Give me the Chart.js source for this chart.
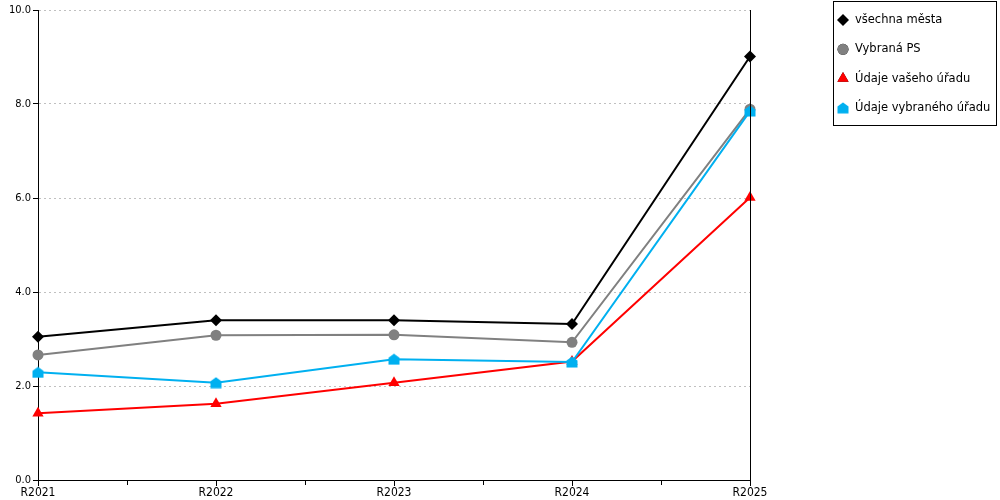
<!DOCTYPE html>
<html>
<head>
<meta charset="utf-8">
<script src="https://cdn.jsdelivr.net/npm/chart.js@4/dist/chart.umd.min.js"></script>
<style>
  html, body { margin: 0; padding: 0; background: #fff; }
  #wrap { width: 1000px; height: 500px; }
</style>
</head>
<body>
<div id="wrap"><canvas id="chart" width="1000" height="500"></canvas></div>
<script>
const years = ['R2021', 'R2022', 'R2023', 'R2024', 'R2025'];
const vsechnaMesta = [3.05, 3.40, 3.40, 3.32, 9.01];
const vybranaPS = [2.66, 3.08, 3.09, 2.93, 7.89];
const udajeVasehoUradu = [1.42, 1.62, 2.07, 2.52, 6.01];
const udajeVybranehoUradu = [2.29, 2.07, 2.57, 2.51, 7.85];
const yTicks = [0, 2, 4, 6, 8, 10];

const font = 'DejaVu Sans';
const fontNarrow = 'DejaVu Sans Condensed';

// house-shaped marker (triangle roof on a square)
function houseMarker(color) {
    const c = document.createElement('canvas');
    c.width = 12; c.height = 12;
    const g = c.getContext('2d');
    g.fillStyle = color;
    g.beginPath();
    g.moveTo(6, 0.5);
    g.lineTo(11.5, 4.5);
    g.lineTo(11.5, 11.5);
    g.lineTo(0.5, 11.5);
    g.lineTo(0.5, 4.5);
    g.closePath();
    g.fill();
    return c;
}
const house = houseMarker('#00b0f0');

const extras = {
    id: 'extras',
    afterDatasetsDraw(chart) {
        const { ctx, chartArea: a, scales: { x } } = chart;
        ctx.save();
        ctx.strokeStyle = '#000';
        ctx.lineWidth = 1;
        // right frame line
        ctx.beginPath();
        ctx.moveTo(Math.round(a.right) + 0.5, a.top);
        ctx.lineTo(Math.round(a.right) + 0.5, a.bottom);
        ctx.stroke();
        // minor ticks between categories
        for (let i = 0; i < years.length - 1; i++) {
            const px = Math.round(x.getPixelForValue(i + 0.5)) + 0.5;
            ctx.beginPath();
            ctx.moveTo(px, a.bottom);
            ctx.lineTo(px, a.bottom + 5);
            ctx.stroke();
        }
        ctx.restore();
    },
    afterDraw(chart) {
        const { ctx } = chart;
        ctx.save();
        ctx.fillStyle = '#fff';
        ctx.fillRect(833, 1, 164, 125);
        ctx.strokeStyle = '#000';
        ctx.lineWidth = 1;
        ctx.strokeRect(833.5, 1.5, 163, 124);
        ctx.font = '11.5px "' + font + '"';
        ctx.textBaseline = 'middle';
        ctx.textAlign = 'left';
        chart.data.datasets.forEach((ds, i) => {
            const cy = 20 + i * 29.3;
            const cx = 843;
            if (ds.pointStyle instanceof HTMLCanvasElement) {
                ctx.drawImage(ds.pointStyle, cx - 6, cy - 6);
            } else {
                Chart.helpers.drawPoint(ctx, {
                    pointStyle: ds.pointStyle,
                    radius: ds.pointRadius,
                    rotation: 0,
                    borderWidth: 0
                }, cx, cy);
                ctx.fillStyle = ds.pointBackgroundColor;
                ctx.fill();
            }
            ctx.fillStyle = '#000';
            ctx.fillText(ds.label, 855, cy);
        });
        ctx.restore();
    }
};

const commonDs = { fill: false, tension: 0, borderWidth: 2, clip: false, pointBorderWidth: 0, pointHoverRadius: 6 };

new Chart(document.getElementById('chart'), {
    type: 'line',
    data: {
        labels: years,
        datasets: [
            Object.assign({}, commonDs, {
                label: 'všechna města', data: vsechnaMesta, order: 4,
                borderColor: '#000000', pointBackgroundColor: '#000000', pointBorderColor: '#000000',
                pointStyle: 'rectRot', pointRadius: 6
            }),
            Object.assign({}, commonDs, {
                label: 'Vybraná PS', data: vybranaPS, order: 3,
                borderColor: '#808080', pointBackgroundColor: '#808080', pointBorderColor: '#808080',
                pointStyle: 'circle', pointRadius: 5.5
            }),
            Object.assign({}, commonDs, {
                label: 'Údaje vašeho úřadu', data: udajeVasehoUradu, order: 2,
                borderColor: '#ff0000', pointBackgroundColor: '#ff0000', pointBorderColor: '#ff0000',
                pointStyle: 'triangle', pointRadius: 6.5
            }),
            Object.assign({}, commonDs, {
                label: 'Údaje vybraného úřadu', data: udajeVybranehoUradu, order: 1,
                borderColor: '#00b0f0', pointBackgroundColor: '#00b0f0', pointBorderColor: '#00b0f0',
                pointStyle: house, pointRadius: 6
            })
        ]
    },
    options: {
        responsive: false,
        devicePixelRatio: 1,
        animation: false,
        layout: { padding: { left: 0, top: 10, right: 250, bottom: 0 } },
        plugins: { legend: { display: false }, tooltip: { enabled: false } },
        scales: {
            x: {
                offset: false,
                afterFit(s) { s.height = 20; },
                grid: { display: true, drawOnChartArea: false, drawTicks: true, tickLength: 6, color: '#000', tickColor: '#000' },
                border: { display: true, color: '#000', width: 1 },
                ticks: { color: '#000', padding: 0, maxRotation: 0, autoSkip: false, font: { family: fontNarrow, size: 12 } }
            },
            y: {
                min: 0,
                max: 10,
                afterFit(s) { s.width = 38; },
                afterBuildTicks(s) { s.ticks = yTicks.map(v => ({ value: v })); },
                grid: { color: '#c0c0c0', tickColor: '#000', tickLength: 5, lineWidth: 1 },
                border: { display: true, color: '#000', width: 1, dash: [2, 3] },
                ticks: { color: '#000', padding: 2, font: { family: fontNarrow, size: 11 }, callback: v => v.toFixed(1) }
            }
        }
    },
    plugins: [extras]
});
</script>
</body>
</html>
